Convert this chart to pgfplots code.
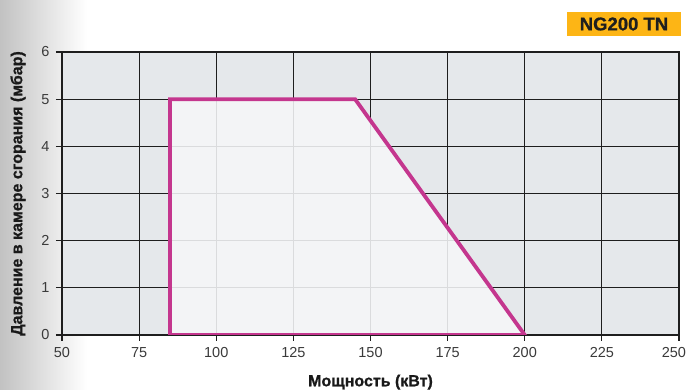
\documentclass[border=0pt]{standalone}
\usepackage{fontspec}
\setmainfont{Liberation Sans}
\newfontfamily\heavy[UprightFont={* Bold}, FakeBold=0.9]{Liberation Sans}
\usepackage{pgfplots}
\pgfplotsset{compat=1.18}
\definecolor{bgax}{HTML}{E5E8EB}
\definecolor{polyfill}{HTML}{F5F6F8}
\definecolor{mag}{HTML}{C4368E}
\definecolor{ybox}{HTML}{FDB515}
\definecolor{gridc}{HTML}{1E1E1E}
\definecolor{tickc}{HTML}{3A3A3A}
\begin{document}
\begin{tikzpicture}[x=1pt,y=1pt]
\useasboundingbox (-62,-55) rectangle (627,335);
\shade[left color=black!24, right color=white] (-62,-55) rectangle (25,335);
\begin{axis}[
  at={(0,0)}, anchor=south west,
  scale only axis, width=617pt, height=283pt,
  xmin=50, xmax=250, ymin=0, ymax=6,
  xtick={50,75,...,250}, ytick={0,1,...,6},
  xticklabels={50,75,100,125,150,175,200,225,{\hbox to 0pt{\hss 250\hskip-7pt}}},
  grid=major,
  major grid style={gridc, line width=1.2pt},
  axis line style={gridc, line width=1.2pt},
  axis background/.style={fill=bgax},
  tick style={gridc, line width=1.2pt},
  tick align=outside, major tick length=6pt,
  xtick pos=bottom, ytick pos=left,
  tick label style={font=\fontsize{14.5}{16}\selectfont, text=tickc},
  /pgf/number format/assume math mode=true,
  xticklabel style={yshift=-3pt},
  yticklabel style={xshift=-3pt},
  xlabel={Мощность (кВт)},
  ylabel={Давление в камере сгорания (мбар)},
  label style={font=\heavy\fontsize{16}{18}\selectfont, text=black!90},
  xlabel style={yshift=-10pt},
  ylabel style={yshift=9pt},
]
\addplot[draw=mag, line width=3.8pt, fill=polyfill, fill opacity=0.88, line join=miter] coordinates {
  (85,0) (85,5) (145,5) (200,0)
} -- cycle;
\end{axis}
\node[fill=ybox, minimum width=114pt, minimum height=24pt, inner sep=0pt, font=\heavy\fontsize{18.5}{20}\selectfont, text=black!88] at (562,311) {NG200 TN};
\end{tikzpicture}
\end{document}
